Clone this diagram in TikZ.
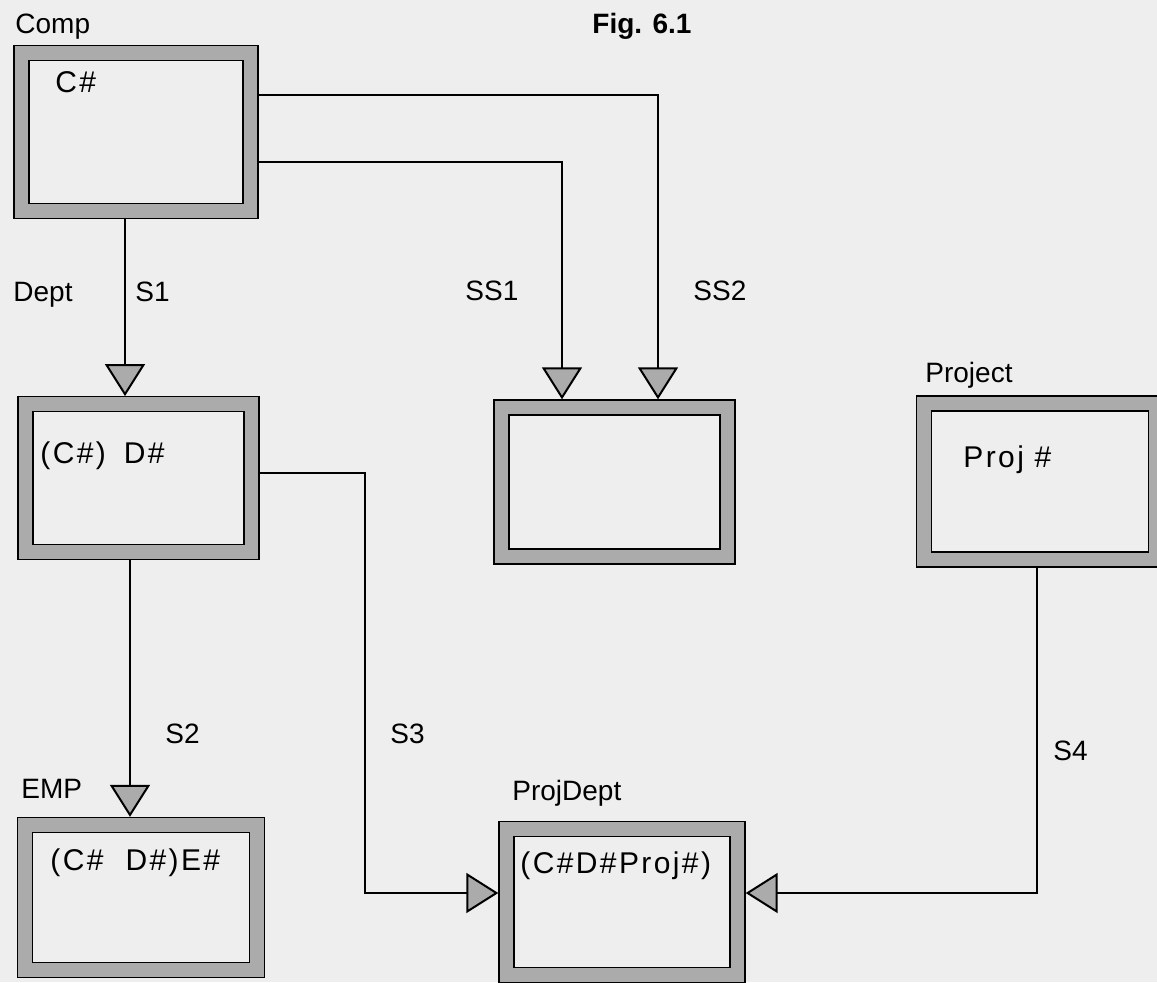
\documentclass[tikz,border=0pt]{standalone}
\usepackage{fontspec}
\setmainfont{Liberation Sans}
\newfontfamily\keyfont{Liberation Sans}[LetterSpace=8]
\usetikzlibrary{arrows.meta,calc}
\definecolor{paper}{HTML}{EEEEEE}
\definecolor{grain}{HTML}{ABABAB}

\begin{document}
\begin{tikzpicture}[
  x=0.5pt, y=-0.5pt,
  font=\fontsize{14}{16}\selectfont,
  >={Triangle[width=20pt,length=16pt,fill=grain]},
  link/.style={->,line width=1pt,draw=black},
  record/.style={draw=black,line width=0.7pt,double=grain,double distance=6.8pt,
                 minimum width=115pt,minimum height=75pt,inner sep=0pt,outer sep=4.1pt},
  tag/.style={anchor=base west,inner sep=0pt},
  key/.style={anchor=base west,inner sep=0pt,font=\keyfont\fontsize{15}{17}\selectfont}
]
\useasboundingbox[fill=paper] (0,0) rectangle (1157,982);

\node[record,minimum width=114.5pt,minimum height=78.75pt] (comp) at (136,132) {};
\node[record,minimum width=113pt,minimum height=73.75pt] (dept) at (138.5,478) {};
\node[record,minimum width=116pt,minimum height=72.5pt] (emp) at (141,897.5) {};
\node[record,minimum width=113pt,minimum height=74.5pt] (ssrec) at (614.5,482) {};
\node[record,minimum width=115.5pt,minimum height=73pt] (projdept) at (622,902) {};
\node[record,minimum width=116pt,minimum height=78pt] (project) at (1040,481.5) {};

\node[tag] (complbl) at (15,33) {Comp};
\node[tag,font=\bfseries\fontsize{14}{16}\selectfont] (figlbl) at (592,33) {Fig. 6.1};
\node[tag] (deptlbl) at (13,301) {Dept};
\node[tag] (s1lbl) at (135,301) {S1};
\node[tag] (ss1lbl) at (465,300) {SS1};
\node[tag] (ss2lbl) at (693,300) {SS2};
\node[tag] (projectlbl) at (925,382) {Project};
\node[tag] (s2lbl) at (165,743) {S2};
\node[tag] (emplbl) at (21,798) {EMP};
\node[tag] (s3lbl) at (390,743) {S3};
\node[tag] (projdeptlbl) at (512,800) {ProjDept};
\node[tag] (s4lbl) at (1053,760) {S4};

\node[key] (compkey) at (55,92) {C\#};
\node[key] (deptkey) at (40,463) {(C\#)\hspace{9pt}D\#};
\node[key] (empkey) at (50,870) {(C\#\hspace{11pt}D\#)E\#};
\node[key] (projdeptkey) at (520,873) {(C\#D\#Proj\#)};
\node[key] (projectkey) at (963,467) {Proj \#};

\draw[link] ([yshift=18.5pt]comp.east) -| ([xshift=21.75pt]ssrec.north);
\draw[link] ([yshift=-15pt]comp.east) -| ([xshift=-26.25pt]ssrec.north);
\draw[link] ([xshift=-5.5pt]comp.south) coordinate (s1) -- (s1 |- dept.north);
\draw[link] ([xshift=-4.25pt]dept.south) coordinate (s2) -- (s2 |- emp.north);
\draw[link] ([yshift=2.5pt]dept.east) -- ++(105,0) |- ([yshift=4.5pt]projdept.west);
\draw[link] ([xshift=-1.5pt]project.south) |- ([yshift=4.5pt]projdept.east);
\end{tikzpicture}
\end{document}
